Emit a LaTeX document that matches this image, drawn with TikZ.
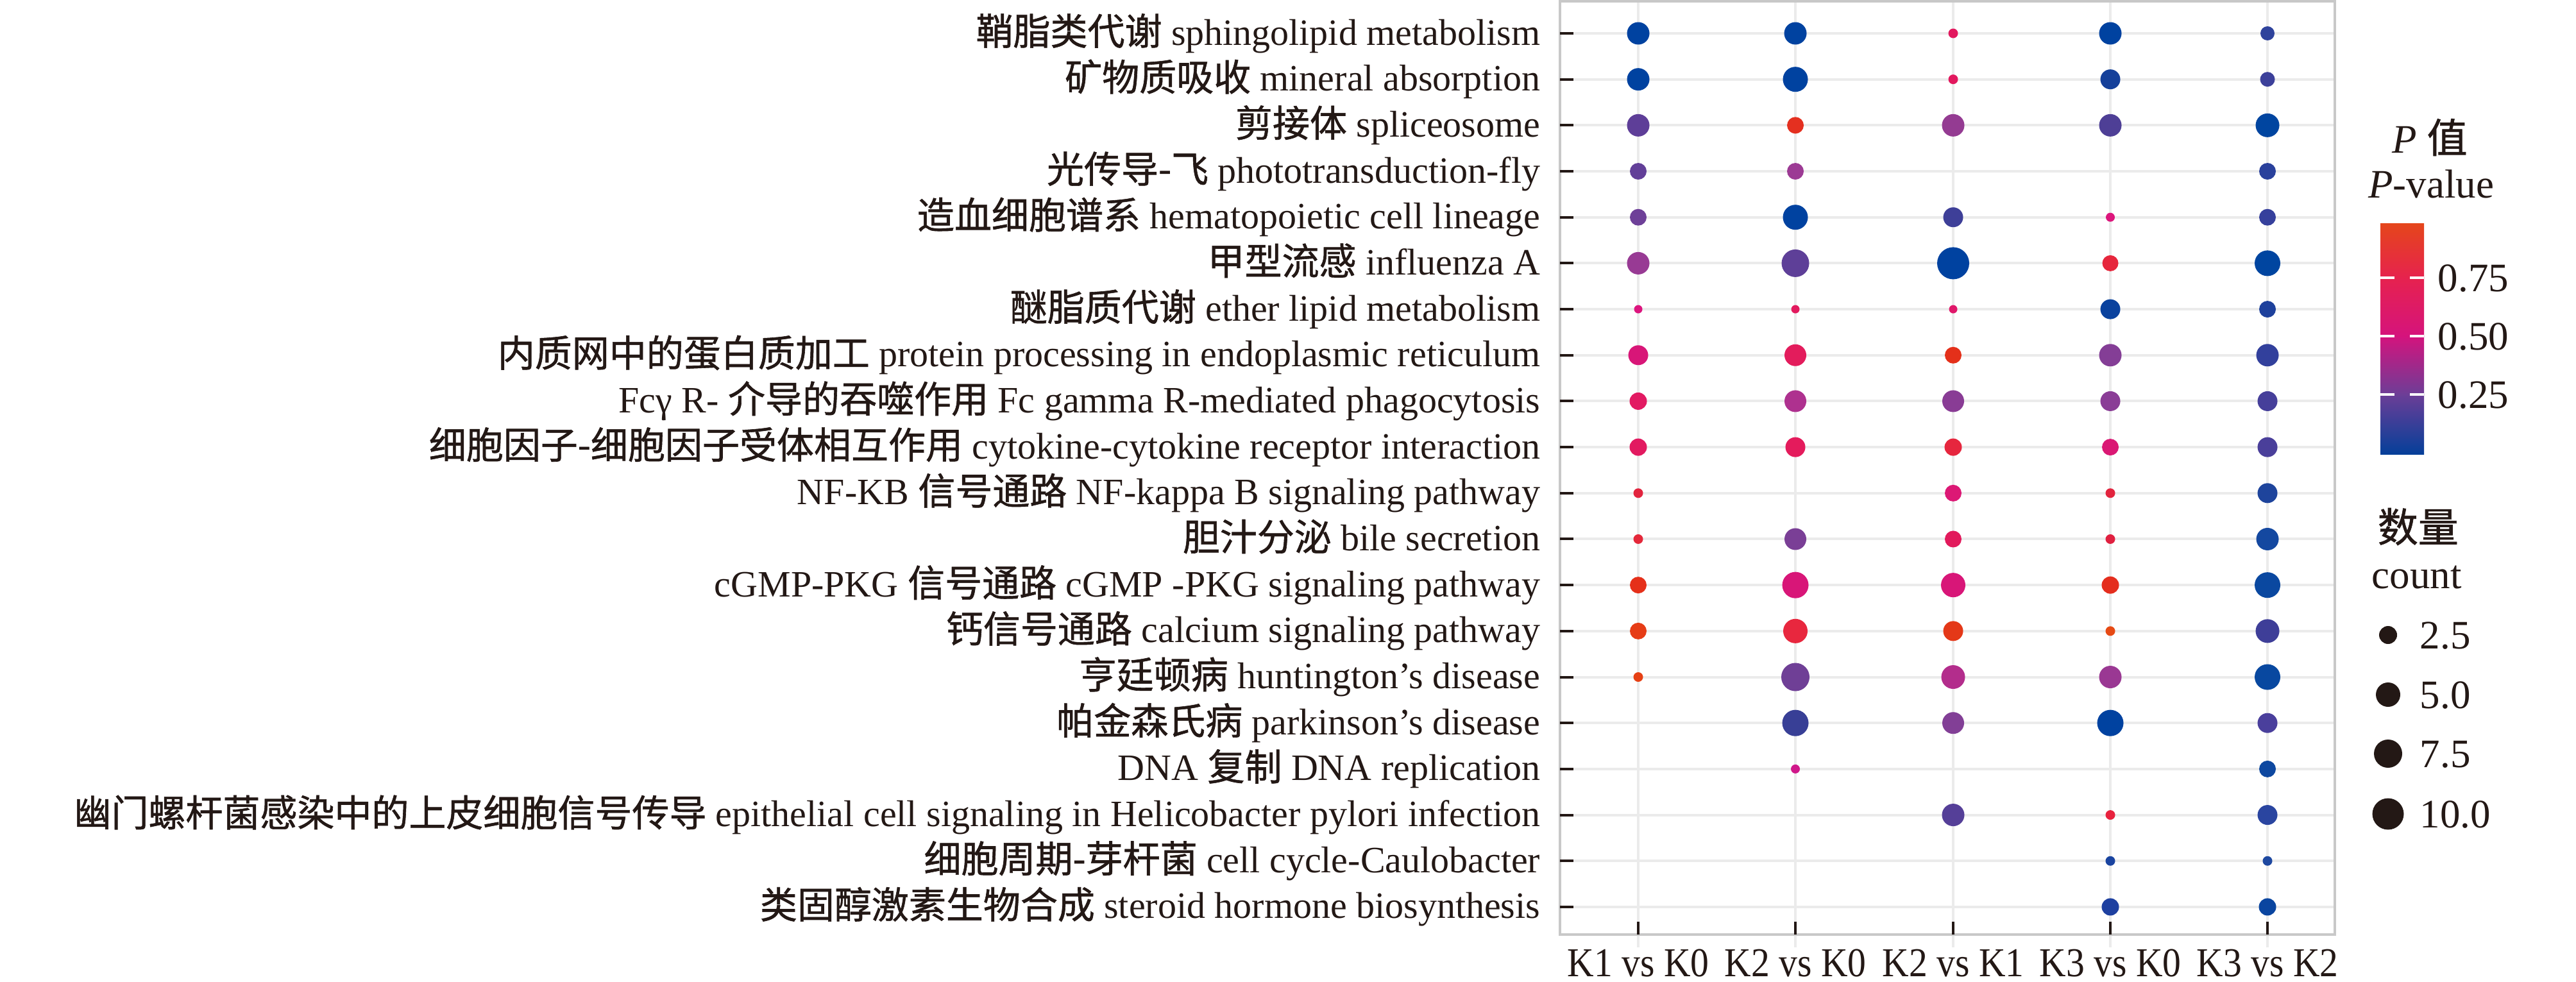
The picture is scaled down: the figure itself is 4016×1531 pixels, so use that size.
\documentclass[tikz,border=0pt]{standalone}
\usepackage{fontspec}
\setmainfont{Liberation Serif}
\newfontfamily\cjk{Noto Sans CJK SC}[FakeBold=1]
\usepackage{graphicx}
\definecolor{gridc}{HTML}{EBEBEB}
\definecolor{panelc}{HTML}{C8C8C8}
\definecolor{inkc}{HTML}{231815}
\newcommand{\xtext}[1]{\scalebox{0.9}[1]{#1}}
\newcommand{\bub}[4]{\definecolor{bubc}{HTML}{#4}\node[bubble,fill=bubc,minimum size=#3*0.25pt] (b#1-#2) at (col#2|-row#1) {};}
\newcommand{\ylabel}[2]{\node[ylab] (lab#1) at (2402,{70+(#1-1)*71.68}) {#2};}
\tikzset{
  gridline/.style={draw=gridc, line width=1pt},
  panelbox/.style={draw=panelc, line width=1pt},
  axtick/.style={draw=inkc, line width=1pt},
  bubble/.style={circle, inner sep=0pt, draw=none},
  ylab/.style={anchor=base east, inner sep=0pt, text=inkc, font=\fontsize{14.5}{17}\selectfont},
  xlab/.style={anchor=base, inner sep=0pt, text=inkc, font=\fontsize{16}{19}\selectfont},
  legtext/.style={inner sep=0pt, text=inkc, font=\fontsize{15.75}{18}\selectfont},
  sizedot/.style={circle, inner sep=0pt, fill=inkc, draw=none},
  cbtick/.style={draw=white, line width=0.8pt}
}
\begin{document}
\begin{tikzpicture}[x=0.25pt,y=-0.25pt]
\useasboundingbox (0,0) rectangle (4016,1531);
% coordinates
\foreach \c/\x in {1/2554,2/2799,3/3045,4/3290,5/3535} {\coordinate (col\c) at (\x,0);}
\foreach \r in {1,...,20} {\coordinate (row\r) at (0,{52+(\r-1)*71.68});}
% grid
\foreach \c in {1,...,5} {\draw[gridline] (col\c|-0,2) -- (col\c|-0,1477);}
\foreach \r in {1,...,20} {\draw[gridline] (2432,0|-row\r) -- (3640,0|-row\r);}
% panel
\draw[panelbox] (2432,2) rectangle (3640,1457);
% ticks
\foreach \r in {1,...,20} {\draw[axtick] (2432,0|-row\r) -- (2453,0|-row\r);}
\foreach \c in {1,...,5} {\draw[axtick] (col\c|-0,1457) -- (col\c|-0,1437);}
% bubbles
\bub{1}{1}{35}{0042A0}\bub{1}{2}{35}{0042A0}\bub{1}{3}{15}{E2185E}\bub{1}{4}{35}{0042A0}\bub{1}{5}{22}{2F439C}
\bub{2}{1}{35}{0042A0}\bub{2}{2}{39}{0042A0}\bub{2}{3}{15}{E2185E}\bub{2}{4}{31}{15409A}\bub{2}{5}{23}{3C409A}
\bub{3}{1}{35}{5E3E98}\bub{3}{2}{26}{E43020}\bub{3}{3}{35}{943B92}\bub{3}{4}{35}{4E3F96}\bub{3}{5}{37}{0045A0}
\bub{4}{1}{26}{623F98}\bub{4}{2}{26}{9C3A94}\bub{4}{5}{26}{2A419C}
\bub{5}{1}{26}{6E4098}\bub{5}{2}{39}{0042A0}\bub{5}{3}{31}{3E3F98}\bub{5}{4}{14}{DC167C}\bub{5}{5}{26}{36409C}
\bub{6}{1}{35}{983A94}\bub{6}{2}{43}{5E3F98}\bub{6}{3}{50}{0042A0}\bub{6}{4}{25}{E6263C}\bub{6}{5}{40}{0045A0}
\bub{7}{1}{13}{DC157E}\bub{7}{2}{13}{E21A5E}\bub{7}{3}{13}{E0186A}\bub{7}{4}{31}{0A429E}\bub{7}{5}{26}{1E419C}
\bub{8}{1}{31}{D81678}\bub{8}{2}{34}{E31C5C}\bub{8}{3}{26}{E4301A}\bub{8}{4}{35}{843E96}\bub{8}{5}{35}{32409C}
\bub{9}{1}{27}{E21A62}\bub{9}{2}{34}{AE318F}\bub{9}{3}{34}{893C95}\bub{9}{4}{31}{8A3D96}\bub{9}{5}{31}{463F9A}
\bub{10}{1}{27}{E21A60}\bub{10}{2}{31}{E41B5C}\bub{10}{3}{27}{E6263E}\bub{10}{4}{26}{DA1874}\bub{10}{5}{31}{4A3F9A}
\bub{11}{1}{15}{E2243E}\bub{11}{3}{26}{DC1875}\bub{11}{4}{15}{E2243E}\bub{11}{5}{31}{1E449C}
\bub{12}{1}{15}{E4283A}\bub{12}{2}{34}{7A3F96}\bub{12}{3}{26}{E21A5C}\bub{12}{4}{15}{E02040}\bub{12}{5}{35}{1448A0}
\bub{13}{1}{26}{E5301A}\bub{13}{2}{41}{D81678}\bub{13}{3}{38}{D81678}\bub{13}{4}{27}{E42E1E}\bub{13}{5}{40}{0A48A0}
\bub{14}{1}{26}{E63C16}\bub{14}{2}{38}{E8273E}\bub{14}{3}{31}{E43818}\bub{14}{4}{15}{E64A14}\bub{14}{5}{37}{3E3E98}
\bub{15}{1}{15}{E64014}\bub{15}{2}{44}{6F3F96}\bub{15}{3}{37}{B32D8C}\bub{15}{4}{35}{9A3893}\bub{15}{5}{40}{0848A0}
\bub{16}{2}{41}{383F96}\bub{16}{3}{34}{823F96}\bub{16}{4}{41}{0042A0}\bub{16}{5}{31}{4A3F9C}
\bub{17}{2}{14}{D0188A}\bub{17}{5}{26}{0E48A0}
\bub{18}{3}{35}{553F98}\bub{18}{4}{15}{E8223E}\bub{18}{5}{31}{2A45A0}
\bub{19}{4}{15}{1A44A0}\bub{19}{5}{15}{1E48A0}
\bub{20}{4}{27}{1E40A0}\bub{20}{5}{27}{0A45A0}
% y labels
\ylabel{1}{{\cjk 鞘脂类代谢} sphingolipid metabolism}
\ylabel{2}{{\cjk 矿物质吸收} mineral absorption}
\ylabel{3}{{\cjk 剪接体} spliceosome}
\ylabel{4}{{\cjk 光传导-飞} phototransduction-fly}
\ylabel{5}{{\cjk 造血细胞谱系} hematopoietic cell lineage}
\ylabel{6}{{\cjk 甲型流感} influenza A}
\ylabel{7}{{\cjk 醚脂质代谢} ether lipid metabolism}
\ylabel{8}{{\cjk 内质网中的蛋白质加工} protein processing in endoplasmic reticulum}
\ylabel{9}{Fcγ R- {\cjk 介导的吞噬作用} Fc gamma R-mediated phagocytosis}
\ylabel{10}{{\cjk 细胞因子-细胞因子受体相互作用} cytokine-cytokine receptor interaction}
\ylabel{11}{NF-KB {\cjk 信号通路} NF-kappa B signaling pathway}
\ylabel{12}{{\cjk 胆汁分泌} bile secretion}
\ylabel{13}{cGMP-PKG {\cjk 信号通路} cGMP -PKG signaling pathway}
\ylabel{14}{{\cjk 钙信号通路} calcium signaling pathway}
\ylabel{15}{{\cjk 亨廷顿病} huntington’s disease}
\ylabel{16}{{\cjk 帕金森氏病} parkinson’s disease}
\ylabel{17}{DNA {\cjk 复制} DNA replication}
\ylabel{18}{{\cjk 幽门螺杆菌感染中的上皮细胞信号传导} epithelial cell signaling in Helicobacter pylori infection}
\ylabel{19}{{\cjk 细胞周期-芽杆菌} cell cycle-Caulobacter}
\ylabel{20}{{\cjk 类固醇激素生物合成} steroid hormone biosynthesis}
% x labels
\node[xlab] (x1) at (col1|-0,1522) {\xtext{K1 vs K0}};
\node[xlab] (x2) at (col2|-0,1522) {\xtext{K2 vs K0}};
\node[xlab] (x3) at (col3|-0,1522) {\xtext{K2 vs K1}};
\node[xlab] (x4) at (col4|-0,1522) {\xtext{K3 vs K0}};
\node[xlab] (x5) at (col5|-0,1522) {\xtext{K3 vs K2}};
% colour legend
\node[legtext, anchor=base] (pt1) at (3788,238) {\textit{P} {\cjk 值}};
\node[legtext, anchor=base] (pt2) at (3790,308) {\textit{P}-value};
\shade[bottom color={rgb,255:red,5;green,63;blue,153}, top color={rgb,255:red,108;green,62;blue,151}] (3711,708) rectangle (3779,614);
\shade[bottom color={rgb,255:red,108;green,62;blue,151}, top color={rgb,255:red,213;green,19;blue,125}] (3711,616) rectangle (3779,523);
\shade[bottom color={rgb,255:red,213;green,19;blue,125}, top color={rgb,255:red,230;green,34;blue,78}] (3711,525) rectangle (3779,432);
\shade[bottom color={rgb,255:red,230;green,34;blue,78}, top color={rgb,255:red,229;green,70;blue,27}] (3711,434) rectangle (3779,348);
\foreach \ty in {433,524,615} {
  \draw[cbtick] (3711,\ty) -- (3733,\ty);
  \draw[cbtick] (3757,\ty) -- (3779,\ty);
}
\node[legtext, anchor=base west] (cb1) at (3800,454) {0.75};
\node[legtext, anchor=base west] (cb2) at (3800,545) {0.50};
\node[legtext, anchor=base west] (cb3) at (3800,636) {0.25};
% size legend
\node[legtext, anchor=base west] (st1) at (3706,845) {\cjk 数量};
\node[legtext, anchor=base west] (st2) at (3697,917) {count};
\node[sizedot, minimum size=28*0.25pt] (s1) at (3723,990) {};
\node[sizedot, minimum size=38*0.25pt] (s2) at (3723,1083) {};
\node[sizedot, minimum size=44*0.25pt] (s3) at (3723,1175) {};
\node[sizedot, minimum size=49*0.25pt] (s4) at (3723,1269) {};
\node[legtext, anchor=base west] (sl1) at (3772,1011) {2.5};
\node[legtext, anchor=base west] (sl2) at (3772,1104) {5.0};
\node[legtext, anchor=base west] (sl3) at (3772,1196) {7.5};
\node[legtext, anchor=base west] (sl4) at (3772,1290) {10.0};
\end{tikzpicture}
\end{document}
